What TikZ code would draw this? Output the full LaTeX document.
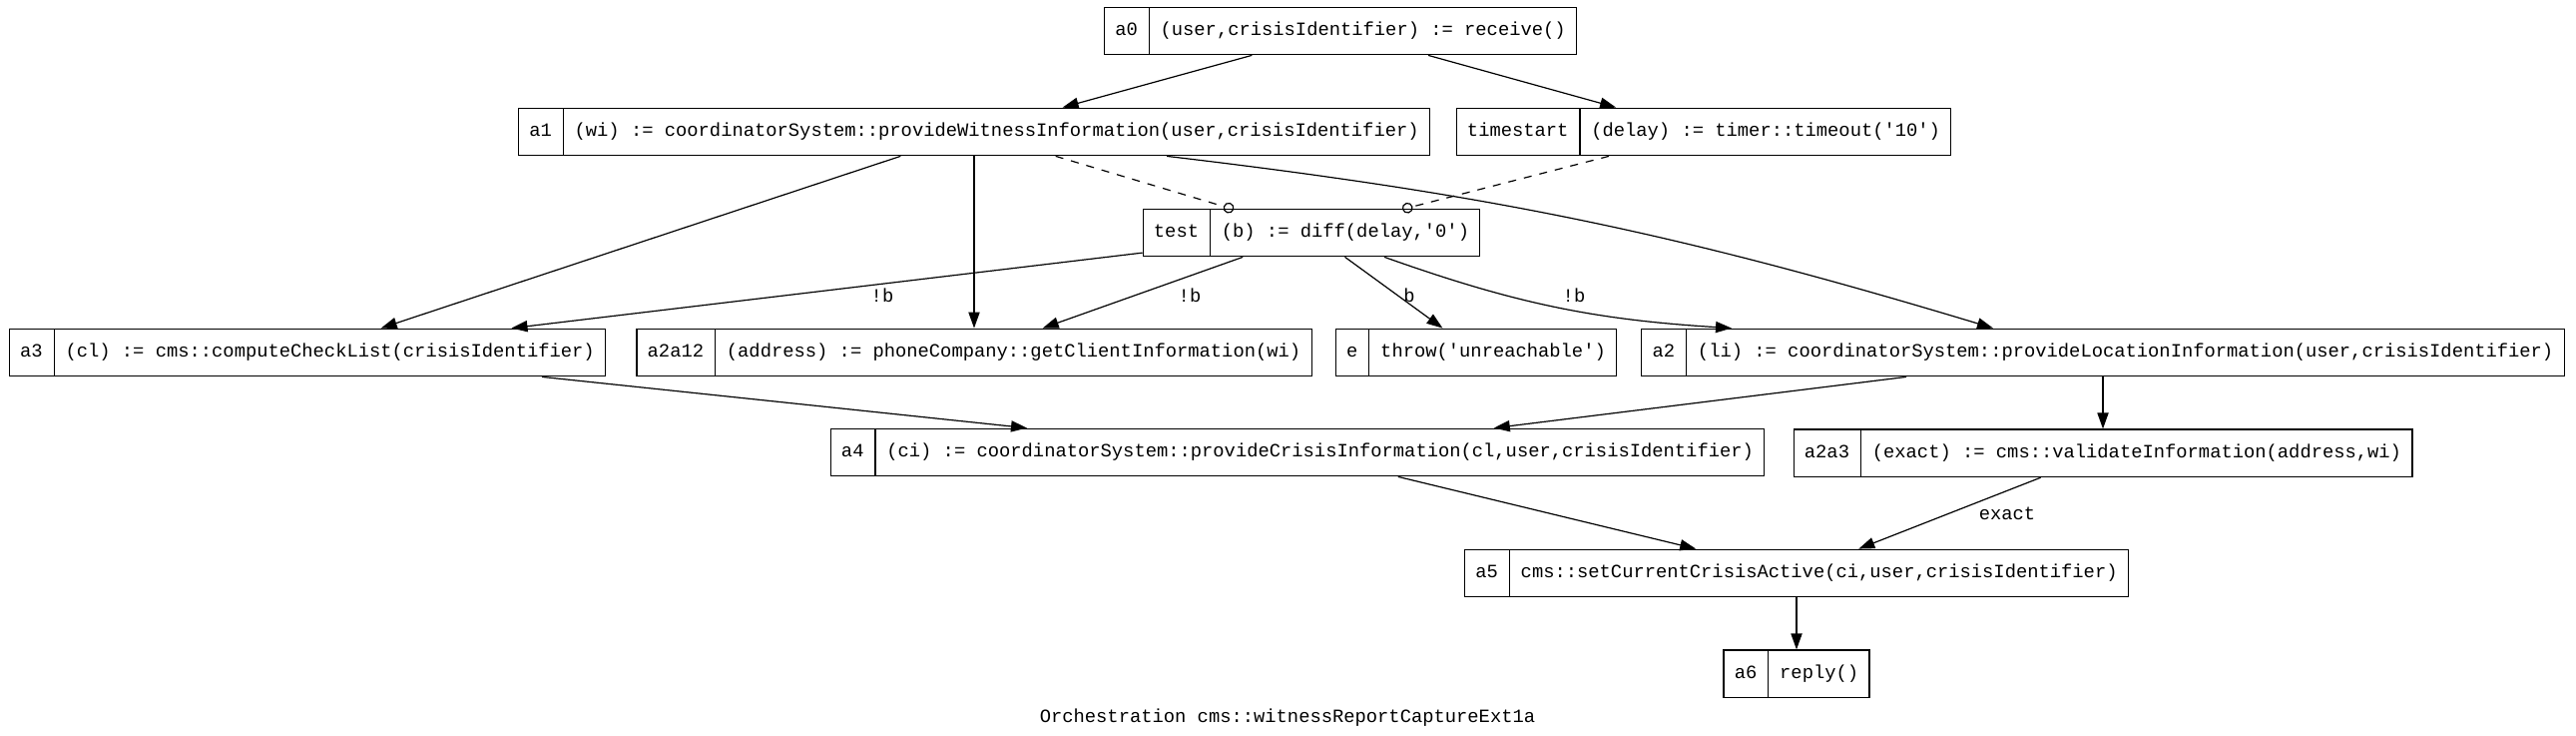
\documentclass[tikz,border=0pt]{standalone}
\usepackage{fontspec}
\setmonofont{Liberation Mono}
\usepackage{tikz}
\usetikzlibrary{shapes.multipart,arrows.meta,positioning,calc}

\begin{document}
\begin{tikzpicture}[x=0.5pt, y=0.5pt, font=\ttfamily\fontsize{9.4}{11}\selectfont, rec/.style={draw, line width=0.6pt, rectangle split, rectangle split horizontal, rectangle split parts=2, inner xsep=5.4pt, inner ysep=7.2pt, text height=7pt, text depth=2.4pt}, arr/.style={-{Triangle[length=8pt,width=5.6pt]}, line width=0.6pt}, darr/.style={-{Circle[open,length=5.4pt,width=5.4pt]}, shorten >=-2pt, dash pattern=on 4pt off 4pt, line width=0.6pt}, lbl/.style={inner sep=1pt}]
\useasboundingbox (0,0) rectangle (2581,-737);
\node[rec] (a0) at (1343,-31) {a0\nodepart{two}(user,crisisIdentifier) := receive()};
\node[rec] (a1) at (976,-132) {a1\nodepart{two}(wi) := coordinatorSystem::provideWitnessInformation(user,crisisIdentifier)};
\node[rec] (timestart) at (1707,-132) {timestart\nodepart{two}(delay) := timer::timeout('10')};
\node[rec] (test) at (1314,-233) {test\nodepart{two}(b) := diff(delay,'0')};
\node[rec] (a3) at (308,-353) {a3\nodepart{two}(cl) := cms::computeCheckList(crisisIdentifier)};
\node[rec] (a2a12) at (976,-353) {a2a12\nodepart{two}(address) := phoneCompany::getClientInformation(wi)};
\node[rec] (e) at (1479,-353) {e\nodepart{two}throw('unreachable')};
\node[rec] (a2) at (2107,-353) {a2\nodepart{two}(li) := coordinatorSystem::provideLocationInformation(user,crisisIdentifier)};
\node[rec] (a4) at (1300,-453) {a4\nodepart{two}(ci) := coordinatorSystem::provideCrisisInformation(cl,user,crisisIdentifier)};
\node[rec, below=26pt of a2] (a2a3) {a2a3\nodepart{two}(exact) := cms::validateInformation(address,wi)};
\node[rec] (a5) at (1800,-574) {a5\nodepart{two}cms::setCurrentCrisisActive(ci,user,crisisIdentifier)};
\node[rec, below=26pt of a5] (a6) {a6\nodepart{two}reply()};
\node[lbl] (nb1) at (884,-296) {!b};
\node[lbl] (nb2) at (1192,-296) {!b};
\node[lbl] (b1) at (1412,-296) {b};
\node[lbl] (nb3) at (1577,-296) {!b};
\node[lbl] (exact) at (2011,-514) {exact};
\node (title) at (1290,-719) {Orchestration cms::witnessReportCaptureExt1a};
\draw[arr] (a0) -- (a1);
\draw[arr] (a0) -- (timestart);
\draw[darr] (a1) -- (test);
\draw[darr] (timestart) -- (test);
\draw[arr] (a1) -- (a3);
\draw[arr] (a1) -- (a2a12);
\draw[arr] ($(a1.south)+(193,0)$) to[bend left=5] ($(a2.north)+(-110,0)$);
\draw[arr] (test) -- (a3);
\draw[arr] (test) -- (a2a12);
\draw[arr] (test) -- (e);
\draw[arr] ($(test.south)+(73,0)$) to[bend right=8] ($(a2.north)+(-372,0)$);
\draw[arr] ($(a3.south)+(235,0)$) -- ($(a4.north)+(-271,0)$);
\draw[arr] (a2) -- (a4);
\draw[arr] (a2) -- (a2a3);
\draw[arr] (a4) -- (a5);
\draw[arr] (a2a3) -- (a5);
\draw[arr] (a5) -- (a6);
\end{tikzpicture}
\end{document}
